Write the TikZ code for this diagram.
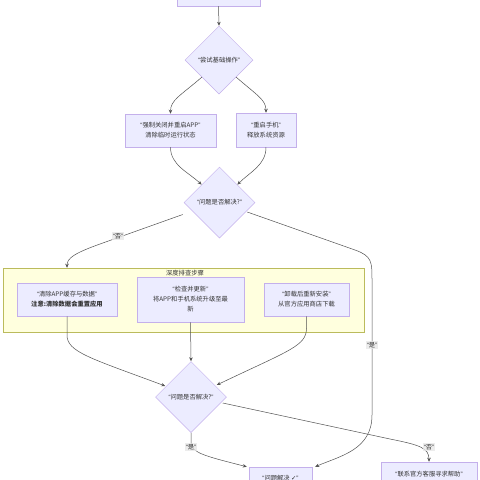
\documentclass[tikz,border=0pt]{standalone}
\usepackage{fontspec}
\setmainfont{Noto Sans CJK SC}
\newfontfamily\latinf{Liberation Sans}
\newfontfamily\symf{DejaVu Sans}
\newcommand\oqq{{\latinf “}}
\newcommand\cqq{{\latinf ”}}
\usetikzlibrary{shapes.geometric,arrows.meta,calc}
\definecolor{nfill}{HTML}{ECECFF}
\definecolor{nborder}{HTML}{9370DB}
\definecolor{ecol}{HTML}{333333}
\definecolor{cfill}{HTML}{FFFFDE}
\definecolor{cborder}{HTML}{AAAA33}
\definecolor{lfill}{HTML}{E8E8E8}
\definecolor{tcol}{HTML}{333333}
\begin{document}
\begin{tikzpicture}[x=1pt,y=-1pt,
 base/.style={font=\fontsize{6.3}{10}\selectfont, text=tcol, align=center, inner sep=0pt},
 proc/.style={base, rectangle, draw=nborder!55, fill=nfill, line width=0.5pt},
 dec/.style={base, diamond, draw=nborder!55, fill=nfill, line width=0.5pt},
 clusterbox/.style={rectangle, draw=cborder!80, fill=cfill, line width=0.5pt, inner sep=0pt},
 edge/.style={draw=ecol!85, line width=0.5pt, -{Stealth[length=4pt,width=3.5pt]}},
 lbl/.style={base, fill=lfill, fill opacity=0.8, text opacity=1, inner sep=1pt}]

\useasboundingbox (0,0) rectangle (480,480);
\fill[white] (0,0) rectangle (480,480);

% cluster
\node[clusterbox, minimum width=361pt, minimum height=64pt] (clu) at (183.5,300) {};
\node[base] (clutitle) at (185,273) {深度排查步骤};

% nodes
\node[proc, minimum width=83pt, minimum height=20pt] (top) at (218.5,-4) {};
\node[dec, minimum width=68pt, minimum height=68pt] (d1) at (219,60) {\oqq 尝试基础操作\cqq};
\node[proc, minimum width=91pt, minimum height=33pt] (A) at (170.5,130.5) {\oqq 强制关闭并重启APP\cqq\\清除临时运行状态};
\node[proc, minimum width=60pt, minimum height=34pt] (B) at (266,130) {\oqq 重启手机\cqq\\释放系统资源};
\node[dec, minimum width=71pt, minimum height=71pt] (d2) at (219.5,202.5) {\oqq 问题是否解决?\cqq};
\node[proc, minimum width=100pt, minimum height=33pt] (C) at (67,299.5) {\oqq 清除APP缓存与数据\cqq\\\textbf{注意:清除数据会重置应用}};
\node[proc, minimum width=107pt, minimum height=45pt] (D) at (190.5,299.5) {\oqq 检查并更新\cqq\\将APP和手机系统升级至最\\新};
\node[proc, minimum width=85pt, minimum height=33pt] (E) at (306.5,299.5) {\oqq 卸载后重新安装\cqq\\从官方应用商店下载};
\node[dec, minimum width=71pt, minimum height=71pt] (d3) at (191,397) {\oqq 问题是否解决?\cqq};
\node[proc, minimum width=63pt, minimum height=22pt] (R) at (280.5,478) {\oqq 问题解决 {\symf ✓}\cqq};
\node[proc, minimum width=96pt, minimum height=24pt] (S) at (429,474) {\oqq 联系官方客服寻求帮助\cqq};

% edges
\draw[edge] (top.south) -- (d1.north);
\draw[edge] (d1.south west) .. controls (180,96) and (170.5,100) .. (A.north);
\draw[edge] (d1.south east) .. controls (258,96) and (266,100) .. (B.north);
\draw[edge] (A.south) .. controls (170.5,165) and (188,172) .. (d2.north west);
\draw[edge] (B.south) .. controls (266,165) and (250,172) .. (d2.north east);
\draw[edge] ([shift={(-1,12)}]d2.west) -- (100,244) .. controls (75,253) and (67,258) .. (clu.north -| C.north);
\draw[edge] ([shift={(-8,9.5)}]d2.east) -- (355,250) .. controls (372,256) and (372,262) .. (372,280) -- (372,415) .. controls (372,450) and (340,456) .. ([shift={(3,0)}]R.north east);
\draw[edge] (C.south) -- (67,335) .. controls (67,352) and (90,358) .. ([shift={(10,-11)}]d3.west);
\draw[edge] (D.south) -- (d3.north);
\draw[edge] (E.south) -- (306.5,328) .. controls (306.5,346) and (290,350) .. ([shift={(-10,-12)}]d3.east);
\draw[edge] (d3.south) -- (191,442) .. controls (191,453) and (205,456) .. ([shift={(-2,0)}]R.north west);
\draw[edge] ([shift={(-4,6)}]d3.east) -- (390,439) .. controls (420,445) and (429,448) .. (S.north);

% labels
\node[lbl] (l1) at (118,236) {\oqq 否\cqq};
\node[lbl] (l2) at (372,345) {\oqq 是\cqq};
\node[lbl] (l3) at (191,447) {\oqq 是\cqq};
\node[lbl] (l4) at (429,447) {\oqq 否\cqq};
\end{tikzpicture}
\end{document}
